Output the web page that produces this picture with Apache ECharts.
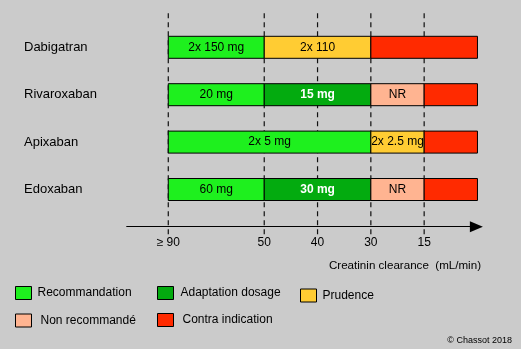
<!DOCTYPE html>
<html>
<head>
<meta charset="utf-8">
<script src="https://cdn.jsdelivr.net/npm/echarts@6/dist/echarts.min.js"></script>
<style>
html,body{margin:0;padding:0;background:#cbcbcb;}
#chart{width:521px;height:349px;}
</style>
</head>
<body>
<div id="chart"></div>
<script>
// ---- data ----
const rows = ['Dabigatran', 'Rivaroxaban', 'Apixaban', 'Edoxaban'];
const tickLabels = ['\u2265 90', '50', '40', '30', '15'];
const boundaries = [90, 50, 40, 30, 15, 0];          // creatinin clearance (mL/min)
const boundaryPos = [0, 1.8, 2.8, 3.8, 4.8, 5.8];     // non-linear axis scale position of each boundary
const categories = ['Recommandation', 'Adaptation dosage', 'Prudence', 'Non recommand\u00e9', 'Contra indication'];
const categoryColors = ['#1ef01e', '#03ab0f', '#ffcc33', '#ffb491', '#ff2a00'];
// segments: [from clearance, to clearance, label, category index]
const dabigatran  = [[90, 50, '2x 150 mg', 0], [50, 30, '2x 110', 2], [30, 0, '', 4]];
const rivaroxaban = [[90, 50, '20 mg', 0], [50, 30, '15 mg', 1], [30, 15, 'NR', 3], [15, 0, '', 4]];
const apixaban    = [[90, 30, '2x 5 mg', 0], [30, 15, '2x 2.5 mg', 2], [15, 0, '', 4]];
const edoxaban    = [[90, 50, '60 mg', 0], [50, 30, '30 mg', 1], [30, 15, 'NR', 3], [15, 0, '', 4]];
const drugSegments = [dabigatran, rivaroxaban, apixaban, edoxaban];

// ---- scale ----
function pos(clearance) { return boundaryPos[boundaries.indexOf(clearance)]; }

const FONT = '"Liberation Sans", Arial, sans-serif';
const chart = echarts.init(document.getElementById('chart'));

const series = categories.map(function (cat, ci) {
  const items = [];
  drugSegments.forEach(function (segs, ri) {
    segs.forEach(function (s) {
      if (s[3] === ci) items.push({ value: [pos(s[0]), pos(s[1]), ri], label: s[2] });
    });
  });
  return {
    type: 'custom',
    name: cat,
    clip: false,
    z: 3,
    itemStyle: { color: categoryColors[ci] },
    encode: { x: [0, 1], y: 2 },
    data: items.map(function (d) { return d.value; }),
    renderItem: function (params, api) {
      const a = api.coord([api.value(0), api.value(2)]);
      const b = api.coord([api.value(1), api.value(2)]);
      const h = 22;
      const txt = items[params.dataIndex].label;
      const bold = ci === 1;
      return {
        type: 'group',
        children: [
          { type: 'rect', shape: { x: a[0], y: a[1] - h / 2, width: b[0] - a[0], height: h },
            style: { fill: categoryColors[ci], stroke: '#000', lineWidth: 1 } },
          { type: 'text', x: (a[0] + b[0]) / 2, y: a[1],
            style: { text: txt, fill: bold ? '#fff' : '#000', align: 'center', verticalAlign: 'middle',
                     font: (bold ? 'bold ' : '') + '12px ' + FONT } }
        ]
      };
    }
  };
});

// dashed guide lines at each tick
series.push({
  type: 'custom',
  name: 'guides',
  clip: false,
  z: 1,
  encode: { x: 0, y: 1 },
  data: boundaryPos.slice(0, tickLabels.length).map(function (p) { return [p, 0]; }),
  renderItem: function (params, api) {
    const c = api.coord([api.value(0), 0]);
    const cs = params.coordSys;
    return {
      type: 'line',
      shape: { x1: c[0], y1: cs.y - 10.3, x2: c[0], y2: cs.y + cs.height + 22.8 },
      style: { stroke: '#111', lineWidth: 1.2, lineDash: [5, 4] }
    };
  }
});

function legendAt(name, left, top, padLeft) {
  return {
    data: [name],
    left: left, top: top, padding: 0,
    icon: 'rect', itemWidth: 16, itemHeight: 13,
    itemStyle: { borderColor: '#000', borderWidth: 1 },
    selectedMode: false,
    textStyle: { fontFamily: FONT, fontSize: 12, color: '#000', padding: [0, 0, 7, padLeft] }
  };
}

chart.setOption({
  backgroundColor: '#cbcbcb',
  animation: false,
  grid: { left: 126.7, right: 44.6, top: 23.6, bottom: 135.8 },
  xAxis: {
    type: 'value', min: -0.78, max: 5.78,
    offset: 13.5,
    splitLine: { show: false },
    axisTick: { show: false },
    axisLine: { show: true, lineStyle: { color: '#000', width: 1 }, symbol: ['none', 'triangle'], symbolSize: [11, 13] },
    axisLabel: {
      customValues: boundaryPos.slice(0, tickLabels.length),
      formatter: function (v) { const i = boundaryPos.indexOf(v); return i >= 0 ? tickLabels[i] : ''; },
      color: '#000', fontFamily: FONT, fontSize: 12, margin: 10
    }
  },
  yAxis: {
    type: 'category', data: rows, inverse: true,
    axisLine: { show: false }, axisTick: { show: false }, splitLine: { show: false },
    axisLabel: { align: 'left', margin: 102.7, color: '#000', fontFamily: FONT, fontSize: 13 }
  },
  legend: [
    legendAt(categories[0], 15, 286, 1),
    legendAt(categories[1], 157, 286, 2),
    legendAt(categories[2], 300, 288.5, 1),
    legendAt(categories[3], 15, 313.5, 4),
    legendAt(categories[4], 157, 313, 4)
  ],
  graphic: [
    { type: 'text', right: 40, top: 260,
      style: { text: 'Creatinin clearance  (mL/min)', font: '11.6px ' + FONT, fill: '#000' } },
    { type: 'text', right: 9, top: 336,
      style: { text: '\u00a9 Chassot 2018', font: '9px ' + FONT, fill: '#000' } }
  ],
  series: series
});
</script>
</body>
</html>
